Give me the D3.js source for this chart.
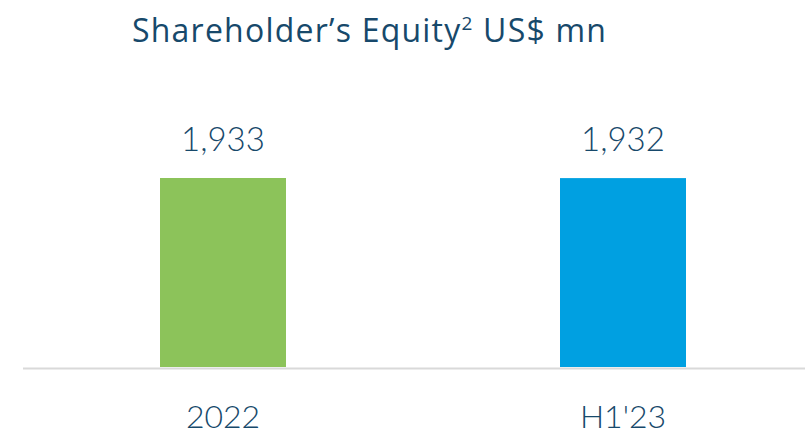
<!DOCTYPE html>
<html>
<head>
<meta charset="utf-8">
<script src="https://cdn.jsdelivr.net/npm/d3@7"></script>
<style>
html,body{margin:0;padding:0;background:#fff;}
svg{display:block;}
text{font-family:Lato, "Open Sans", sans-serif;}
</style>
</head>
<body>
<svg id="chart" width="805" height="431"></svg>
<script>
const categories = ["2022", "H1'23"];
const values = [1933, 1932];
const valueLabels = ["1,933", "1,932"];
const barColors = ["#8cc35a", "#00a0e1"];
const titleMain = "Shareholder\u2019s Equity";
const titleSup = "2";
const titleTail = " US$ mn";

const svg = d3.select("#chart");
const W = 805, H = 431;
const baseY = 367;
const textColor = "#17496b";

const x = d3.scaleBand().domain(categories).range([23, 823]).paddingInner(0.685).paddingOuter(0.3425);
const y = d3.scaleLinear().domain([0, 2000]).range([baseY, baseY - 189 * 2000 / 1933]);

// baseline
svg.append("line").attr("x1", 23).attr("x2", W).attr("y1", baseY + 1.5).attr("y2", baseY + 1.5)
  .attr("stroke", "#d9d9d9").attr("stroke-width", 2);

// bars
svg.selectAll("rect.bar").data(values).enter().append("rect")
  .attr("class", "bar")
  .attr("x", (d, i) => x(categories[i]))
  .attr("width", x.bandwidth())
  .attr("y", d => y(d))
  .attr("height", d => baseY - y(d))
  .attr("fill", (d, i) => barColors[i]);

// value labels
svg.selectAll("text.val").data(values).enter().append("text")
  .attr("class", "val")
  .attr("x", (d, i) => x(categories[i]) + x.bandwidth() / 2)
  .attr("y", d => y(d) - 27)
  .attr("text-anchor", "middle")
  .attr("fill", textColor)
  .attr("font-size", 33)
  .attr("font-weight", 300)
  .text((d, i) => valueLabels[i]);

// category labels
const xAxis = d3.axisBottom(x).tickSize(0).tickPadding(0);
const ax = svg.append("g").attr("transform", `translate(0,${428})`).call(xAxis);
ax.select(".domain").remove();
ax.selectAll("text").attr("fill", textColor).attr("font-size", 32).attr("font-weight", 300)
  .attr("dy", 0).style("font-family", "Lato, 'Open Sans', sans-serif");

// title
const title = svg.append("text").attr("x", 132).attr("y", 42).attr("fill", textColor)
  .attr("font-size", 32).attr("font-weight", 400)
  .style("font-family", "'Open Sans', sans-serif");
title.append("tspan").text(titleMain);
title.append("tspan").attr("font-size", 19).attr("dy", -12).text(titleSup);
title.append("tspan").attr("dy", 12).text(titleTail);
// fit title width to the reference span
const target = 474;
const len = title.node().getComputedTextLength();
const n = (titleMain + titleSup + titleTail).length - 1;
title.attr("letter-spacing", ((target - len) / n).toFixed(2));
</script>
</body>
</html>
